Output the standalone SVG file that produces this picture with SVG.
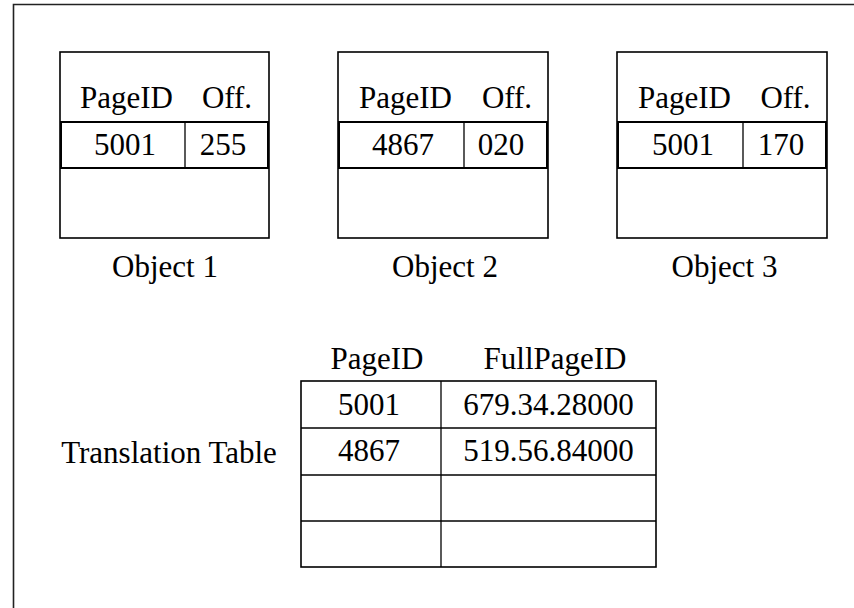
<svg xmlns="http://www.w3.org/2000/svg" width="854" height="608" viewBox="0 0 854 608">
<style>
text{font-family:"Liberation Serif","Times New Roman",serif;font-size:31px;fill:#000;text-anchor:middle}
.box{fill:none;stroke:#000;stroke-width:1.6}
.row{fill:none;stroke:#000;stroke-width:2}
.ln{stroke:#000;stroke-width:1.3}
.tb{fill:none;stroke:#000;stroke-width:1.6}
</style>
<rect width="854" height="608" fill="#fff"/>
<path d="M13.5,608 V4.5 H854" fill="none" stroke="#222" stroke-width="1.6"/>
<g id="object1">
<rect class="box" x="60" y="52" width="209" height="186"/>
<rect class="row" x="61" y="122" width="207" height="46"/>
<line class="ln" x1="185" y1="122" x2="185" y2="168"/>
<text x="126.5" y="108">PageID</text>
<text x="227" y="108">Off.</text>
<text x="125" y="155">5001</text>
<text x="223" y="155">255</text>
<text x="165" y="277">Object 1</text>
</g>
<g id="object2">
<rect class="box" x="338" y="52" width="210" height="186"/>
<rect class="row" x="339" y="122" width="208" height="46"/>
<line class="ln" x1="464" y1="122" x2="464" y2="168"/>
<text x="405.5" y="108">PageID</text>
<text x="507" y="108">Off.</text>
<text x="403" y="155">4867</text>
<text x="501" y="155">020</text>
<text x="445" y="277">Object 2</text>
</g>
<g id="object3">
<rect class="box" x="617" y="52" width="210" height="186"/>
<rect class="row" x="618" y="122" width="208" height="46"/>
<line class="ln" x1="743" y1="122" x2="743" y2="168"/>
<text x="684.5" y="108">PageID</text>
<text x="785.5" y="108">Off.</text>
<text x="683" y="155">5001</text>
<text x="781" y="155">170</text>
<text x="724.5" y="277">Object 3</text>
</g>
<g id="translation-table">
<text x="169" y="463">Translation Table</text>
<text x="377" y="369">PageID</text>
<text x="555" y="369">FullPageID</text>
<rect class="tb" x="301" y="381" width="355" height="186"/>
<line class="ln" x1="441" y1="381" x2="441" y2="567" stroke-width="2"/>
<line class="ln" x1="301" y1="428" x2="656" y2="428" stroke-width="1.6"/>
<line class="ln" x1="301" y1="475" x2="656" y2="475" stroke-width="2"/>
<line class="ln" x1="301" y1="521" x2="656" y2="521" stroke-width="1.6"/>
<text x="369" y="415">5001</text>
<text x="548.5" y="415">679.34.28000</text>
<text x="369" y="461">4867</text>
<text x="548.5" y="461">519.56.84000</text>
</g>
<g id="connectors"></g>
</svg>
